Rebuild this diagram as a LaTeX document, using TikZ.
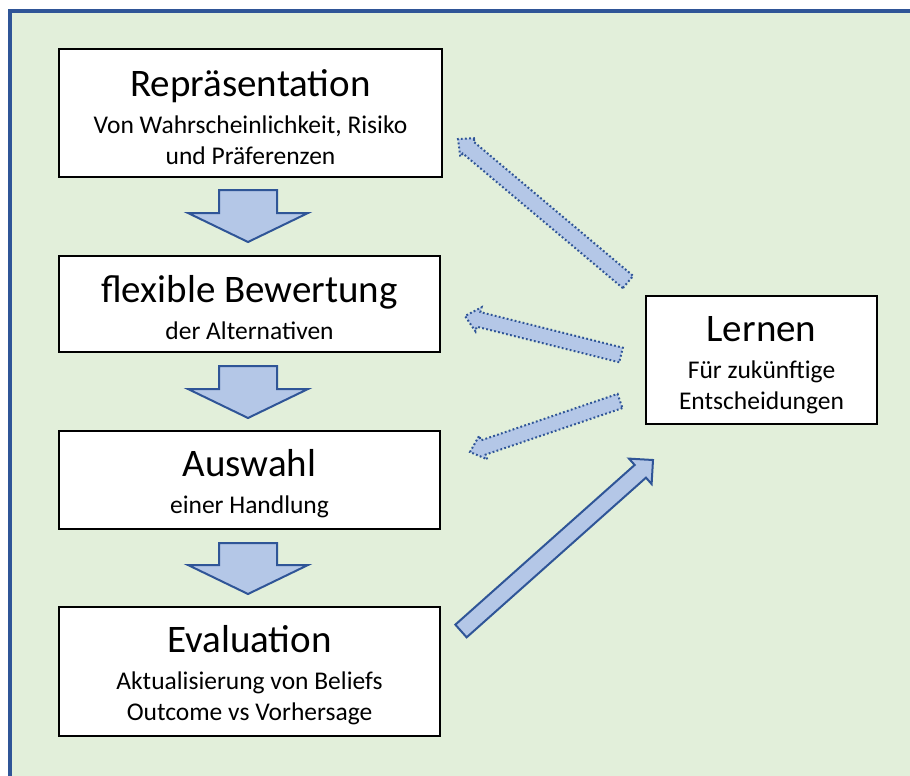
\documentclass[tikz,border=0pt]{standalone}
\usepackage{fontspec}
\setmainfont{Carlito}
\usetikzlibrary{calc}

\definecolor{panelgreen}{RGB}{226,239,218}
\definecolor{frameblue}{RGB}{47,85,151}
\definecolor{arrowfill}{RGB}{180,199,231}
\definecolor{arrowline}{RGB}{47,85,151}

% block arrow: [style]{start}{tip}{half shaft width}{half head width}{head length}
\newcommand{\fatarrow}[6][]{%
  \coordinate (faBase) at ($(#3)!#6!(#2)$);
  \draw[#1] ($(#2)!#4!90:(#3)$) -- ($(faBase)!#4!90:(#3)$) -- ($(faBase)!#5!90:(#3)$)
    -- (#3) -- ($(faBase)!#5!-90:(#3)$) -- ($(faBase)!#4!-90:(#3)$)
    -- ($(#2)!#4!-90:(#3)$) -- cycle;
}

\tikzset{
  box/.style={draw=black, line width=2pt, fill=white, align=center, inner sep=0pt,
    font=\fontsize{25.5}{31}\selectfont},
  solidarrow/.style={fill=arrowfill, draw=arrowline, line width=2pt, line join=miter},
  dotarrow/.style={fill=arrowfill, draw=arrowline, line width=2pt,
    dash pattern=on 1.8pt off 2.3pt},
}
\newcommand{\ttl}[1]{{\fontsize{39}{47}\selectfont\rule{0pt}{35pt}#1}}

\begin{document}
\begin{tikzpicture}[x=1pt, y=-1pt]
  \useasboundingbox (0,0) rectangle (910,776);
  \clip (0,0) rectangle (910,776);

  % background panel, open towards the right and bottom
  \fill[panelgreen] (10,11) rectangle (1100,1000);
  \draw[frameblue, line width=3.2pt] (10,1000) -- (10,11) -- (1100,11);

  % process steps
  \node[box, minimum width=383pt, minimum height=128pt] (rep) at (250.5,113)
    {\ttl{Repräsentation}\\[6pt]Von Wahrscheinlichkeit, Risiko\\und Präferenzen};
  \node[box, minimum width=381pt, minimum height=96pt] (bew) at (249.5,304)
    {\ttl{flexible Bewertung}\\[6pt]der Alternativen};
  \node[box, minimum width=381pt, minimum height=98pt] (aus) at (249.5,480)
    {\ttl{Auswahl}\\[6pt]einer Handlung};
  \node[box, minimum width=381pt, minimum height=129pt] (eva) at (249.5,671.5)
    {\ttl{Evaluation}\\[6pt]Aktualisierung von Beliefs\\Outcome vs Vorhersage};
  \node[box, minimum width=231pt, minimum height=128pt] (ler) at (761.5,360)
    {\ttl{Lernen}\\[6pt]Für zukünftige\\Entscheidungen};

  % downward block arrows between steps
  \coordinate (d1s) at (248,190);  \coordinate (d1e) at (248,242);
  \coordinate (d2s) at (248,366);  \coordinate (d2e) at (248,418);
  \coordinate (d3s) at (248,543);  \coordinate (d3e) at (248,594);
  \fatarrow[solidarrow]{d1s}{d1e}{29pt}{60pt}{29pt}
  \fatarrow[solidarrow]{d2s}{d2e}{29pt}{60pt}{29pt}
  \fatarrow[solidarrow]{d3s}{d3e}{29pt}{60pt}{29pt}

  % evaluation feeds learning
  \coordinate (ev2l) at (461,631);  \coordinate (l4e) at (653,460);
  \fatarrow[solidarrow]{ev2l}{l4e}{8.5pt}{17pt}{17pt}

  % learning feeds back into the earlier steps
  \coordinate (l1s) at (628,282);  \coordinate (l1e) at (458,139);
  \coordinate (l2s) at (621,355);  \coordinate (l2e) at (465,316);
  \coordinate (l3s) at (620,401);  \coordinate (l3e) at (470,452);
  \fatarrow[dotarrow]{l1s}{l1e}{8pt}{12pt}{13pt}
  \fatarrow[dotarrow]{l2s}{l2e}{7.5pt}{12.5pt}{14pt}
  \fatarrow[dotarrow]{l3s}{l3e}{7.5pt}{12.5pt}{14pt}
\end{tikzpicture}
\end{document}
